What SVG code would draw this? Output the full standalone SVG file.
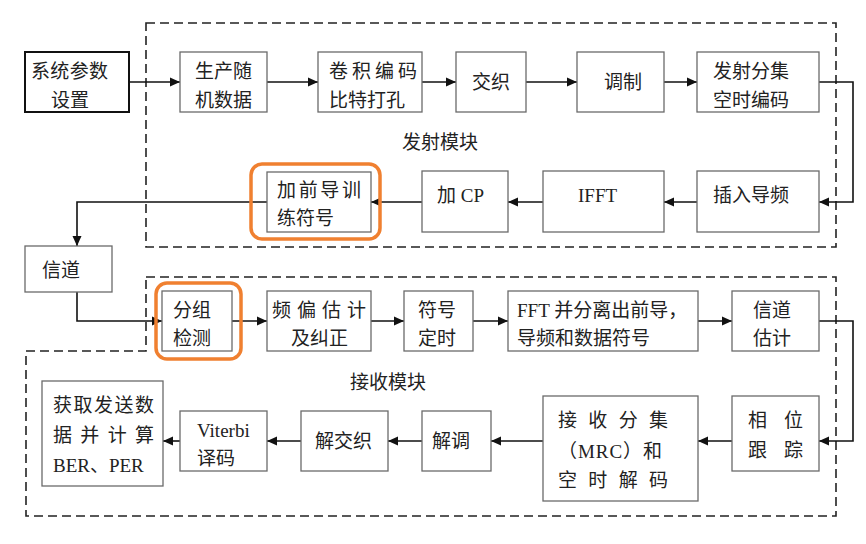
<svg xmlns="http://www.w3.org/2000/svg" width="866" height="544" viewBox="0 0 866 544">
<style>
.bx{fill:#fff;stroke:#6a6a6a;stroke-width:1.3}
.bk{fill:#fff;stroke:#111;stroke-width:2}
.hl{fill:none;stroke:#f08030;stroke-width:3.5}
.dash{fill:none;stroke:#222;stroke-width:1.6;stroke-dasharray:9 5}
.ln{fill:none;stroke:#111;stroke-width:1.6;marker-end:url(#ah)}
text{font-family:"Liberation Serif","Noto Sans CJK SC",serif;font-size:19px;fill:#222}
</style>
<defs>
<marker id="ah" viewBox="0 0 10 10" refX="10" refY="5" markerWidth="12" markerHeight="10" markerUnits="userSpaceOnUse" orient="auto">
<path d="M0,0.5 L10,5 L0,9.5 z" fill="#111"/>
</marker>
</defs>
<rect width="866" height="544" fill="#fff"/>
<g id="regions">
<rect class="dash" x="146" y="23" width="690" height="224"/>
<path class="dash" d="M146,277 H836 V516 H26 V351 H146 Z"/>
<text x="402" y="149">发射模块</text>
<text x="350" y="389">接收模块</text>
</g>
<g id="connectors">
<path class="ln" d="M129,82 H180"/>
<path class="ln" d="M267,82 H318"/>
<path class="ln" d="M422,82 H456"/>
<path class="ln" d="M526,82 H577"/>
<path class="ln" d="M664,82 H697"/>
<path class="ln" d="M819,82 H853 V202 H819"/>
<path class="ln" d="M697,202 H664"/>
<path class="ln" d="M543,202 H508"/>
<path class="ln" d="M422,202 H371"/>
<path class="ln" d="M267,202 H77 V246"/>
<path class="ln" d="M77,292 V321 H162"/>
<path class="ln" d="M232,321 H267"/>
<path class="ln" d="M371,321 H404"/>
<path class="ln" d="M473,321 H508"/>
<path class="ln" d="M698,321 H732"/>
<path class="ln" d="M819,321 H853 V441 H819"/>
<path class="ln" d="M732,441 H698"/>
<path class="ln" d="M543,441 H491"/>
<path class="ln" d="M422,441 H388"/>
<path class="ln" d="M301,441 H267"/>
<path class="ln" d="M180,441 H163"/>
</g>
<g id="sysparam"><rect class="bk" x="25" y="52" width="104" height="60"/><text x="31" y="78" textLength="77">系统参数</text><text x="51" y="107">设置</text></g>
<g id="randdata"><rect class="bx" x="180" y="52" width="87" height="60"/><text x="195" y="78">生产随</text><text x="195" y="107">机数据</text></g>
<g id="convcode"><rect class="bx" x="318" y="52" width="104" height="60"/><text x="329" y="78" textLength="88">卷积编码</text><text x="329" y="107">比特打孔</text></g>
<g id="interleave"><rect class="bx" x="456" y="52" width="70" height="60"/><text x="472" y="89">交织</text></g>
<g id="modulate"><rect class="bx" x="577" y="52" width="87" height="60"/><text x="604" y="89">调制</text></g>
<g id="stcode"><rect class="bx" x="697" y="52" width="122" height="60"/><text x="713" y="78">发射分集</text><text x="713" y="107">空时编码</text></g>
<g id="pilot"><rect class="bx" x="697" y="171" width="122" height="61"/><text x="713" y="202">插入导频</text></g>
<g id="ifft"><rect class="bx" x="543" y="171" width="121" height="61"/><text x="578" y="202">IFFT</text></g>
<g id="addcp"><rect class="bx" x="422" y="171" width="86" height="61"/><text x="437" y="202">加 CP</text></g>
<g id="preamble"><rect class="bx" x="267" y="172" width="104" height="60"/><rect class="hl" x="251" y="164" width="129" height="75" rx="11"/><text x="277" y="197" textLength="84">加前导训</text><text x="277" y="225">练符号</text></g>
<g id="channel"><rect class="bx" x="25" y="246" width="87" height="46"/><text x="42" y="277">信道</text></g>
<g id="detect"><rect class="bx" x="162" y="291" width="70" height="60"/><rect class="hl" x="156" y="283" width="85" height="76" rx="11"/><text x="173" y="317">分组</text><text x="173" y="345">检测</text></g>
<g id="cfo"><rect class="bx" x="267" y="291" width="104" height="60"/><text x="272" y="317" textLength="94">频偏估计</text><text x="291" y="345">及纠正</text></g>
<g id="timing"><rect class="bx" x="404" y="291" width="69" height="60"/><text x="418" y="317">符号</text><text x="418" y="345">定时</text></g>
<g id="fft"><rect class="bx" x="508" y="291" width="190" height="60"/><text x="517" y="317">FFT 并分离出前导，</text><text x="517" y="345">导频和数据符号</text></g>
<g id="chest"><rect class="bx" x="732" y="291" width="87" height="60"/><text x="753" y="317">信道</text><text x="753" y="345">估计</text></g>
<g id="phase"><rect class="bx" x="732" y="396" width="87" height="75"/><text x="748" y="427" textLength="55">相位</text><text x="748" y="457" textLength="55">跟踪</text></g>
<g id="mrc"><rect class="bx" x="543" y="396" width="155" height="105"/><text x="558" y="427" textLength="110">接收分集</text><text x="558" y="458" textLength="104">（MRC）和</text><text x="558" y="487" textLength="110">空时解码</text></g>
<g id="demod"><rect class="bx" x="422" y="411" width="69" height="60"/><text x="432" y="448">解调</text></g>
<g id="deinterleave"><rect class="bx" x="301" y="411" width="87" height="60"/><text x="315" y="448">解交织</text></g>
<g id="viterbi"><rect class="bx" x="180" y="411" width="87" height="60"/><text x="197" y="437">Viterbi</text><text x="197" y="465">译码</text></g>
<g id="ber"><rect class="bx" x="42" y="381" width="121" height="105"/><text x="53" y="412" textLength="101">获取发送数</text><text x="53" y="442" textLength="101">据并计算</text><text x="53" y="472">BER、PER</text></g>
</svg>
